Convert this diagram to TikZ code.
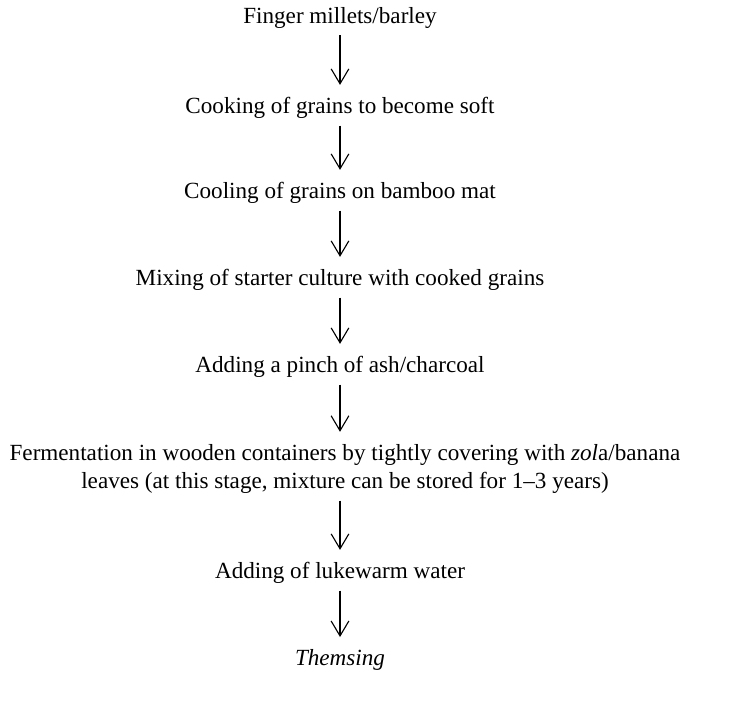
\documentclass[tikz,border=0pt]{standalone}
\usepackage{fontspec}
\setmainfont{Liberation Serif}
\usetikzlibrary{arrows.meta}
\tikzset{
  stage/.style={inner sep=0pt, align=center, font=\fontsize{12.4}{15.2}\selectfont},
  flow/.style={-{Straight Barb[length=8pt, width=9.5pt]}, line width=0.6pt,
    shorten <=3.5pt, shorten >=6.5pt},
}
\begin{document}
\begin{tikzpicture}[x=0.536pt, y=-0.536pt]
\useasboundingbox (0,0) rectangle (742,712);
\node[stage] (grain) at (340,18) {Finger millets/barley};
\node[stage] (cook) at (340,108) {Cooking of grains to become soft};
\node[stage] (cool) at (340,193) {Cooling of grains on bamboo mat};
\node[stage] (mix) at (340,280) {Mixing of starter culture with cooked grains};
\node[stage] (ash) at (340,367) {Adding a pinch of ash/charcoal};
\node[stage] (ferm) at (345,469) {Fermentation in wooden containers by tightly covering with \textit{zol}a/banana\\
  leaves (at this stage, mixture can be stored for 1--3 years)};
\node[stage] (water) at (340,573) {Adding of lukewarm water};
\node[stage] (drink) at (340,660) {\textit{Themsing}};

\foreach \a/\b in {grain/cook, cook/cool, cool/mix, mix/ash, ash/ferm, water/drink}
  \draw[flow] (\a.south -| grain) -- (\b.north -| grain);
\draw[flow] (ferm.south -| grain) -- (water.north -| grain);
\end{tikzpicture}
\end{document}
